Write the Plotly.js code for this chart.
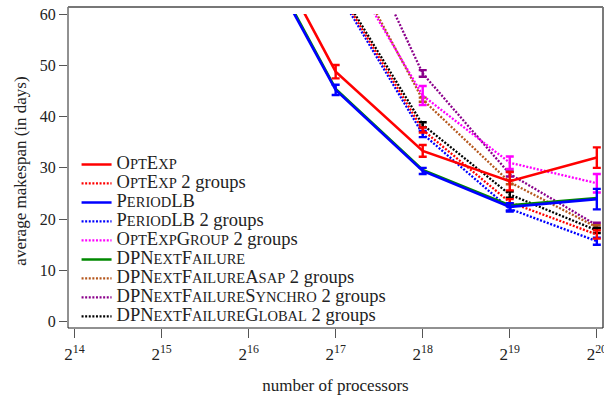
<!DOCTYPE html>
<html>
<head>
<meta charset="utf-8">
<script src="https://cdn.plot.ly/plotly-3.0.1.min.js"></script>
<style>html,body{margin:0;padding:0;background:#fff;}#chart{width:604px;height:401px;}</style>
</head>
<body>
<div id="chart"></div>
<script>
// processors (powers of two)
var xSolid = [Math.pow(2,16), Math.pow(2,17), Math.pow(2,18), Math.pow(2,19), Math.pow(2,20)];
var xGroup = [Math.pow(2,17), Math.pow(2,18), Math.pow(2,19), Math.pow(2,20)];

var optExp        = [80.5, 48.75, 33.3, 27.4, 32.0];
var optExpErr     = [null, 1.3, 1.15, 1.8, 2.0];
var periodLB      = [76.3, 45.2, 29.4, 22.4, 23.9];
var periodLBErr   = [null, 1.0, 0.6, 0.7, 2.0];
var dpNext        = [76.8, 45.4, 29.6, 22.7, 24.1];

var optExp2       = [65.6, 37.4, 23.3, 17.0];
var optExp2Err    = [null, 0.5, 0.6, 0.8];
var periodLB2     = [65.0, 36.6, 22.0, 15.7];
var periodLB2Err  = [null, 0.6, 0.5, 0.7];
var optExpGroup2  = [73.0, 44.1, 31.0, 27.0];
var optExpGroup2Err = [null, 1.85, 1.2, 1.8];
var dpAsap2       = [75.0, 43.3, 27.2, 18.4];
var dpAsap2Err    = [null, 0.4, 0.4, 0.4];
var dpSynchro2    = [84.7, 48.4, 28.8, 18.8];
var dpSynchro2Err = [null, 0.65, 0.5, 0.5];
var dpGlobal2     = [66.1, 38.4, 24.8, 17.8];
var dpGlobal2Err  = [null, 0.5, 0.6, 0.5];

var tickExp = [14, 15, 16, 17, 18, 19, 20];
var yTicks = [0, 10, 20, 30, 40, 50, 60];

function sc(s){ return "<span style='font-size:14.5px'>" + s + "</span>"; }
function big(s){ return "<span style='font-size:18.5px'>" + s + "</span>"; }
var names = {
  optExp: big("O" + sc("PT") + "E" + sc("XP")),
  optExp2: big("O" + sc("PT") + "E" + sc("XP") + " 2 groups"),
  periodLB: big("P" + sc("ERIOD") + "LB"),
  periodLB2: big("P" + sc("ERIOD") + "LB 2 groups"),
  optExpGroup2: big("O" + sc("PT") + "E" + sc("XP") + "G" + sc("ROUP") + " 2 groups"),
  dpNext: big("DPN" + sc("EXT") + "F" + sc("AILURE")),
  dpAsap2: big("DPN" + sc("EXT") + "F" + sc("AILURE") + "A" + sc("SAP") + " 2 groups"),
  dpSynchro2: big("DPN" + sc("EXT") + "F" + sc("AILURE") + "S" + sc("YNCHRO") + " 2 groups"),
  dpGlobal2: big("DPN" + sc("EXT") + "F" + sc("AILURE") + "G" + sc("LOBAL") + " 2 groups")
};

var DOT = "2px,1.6px";
function tr(x, y, err, name, color, dash, rank, w){
  var t = {
    x: x, y: y, name: name, mode: "lines", type: "scatter",
    line: {color: color, width: w || (dash ? 2.3 : 2.6), dash: dash || "solid"},
    legendrank: rank, hoverinfo: "skip"
  };
  if (err) t.error_y = {type: "data", array: err, visible: true, color: color, thickness: 2.4, width: 4};
  return t;
}

var data = [
  tr(xGroup, dpSynchro2, dpSynchro2Err, names.dpSynchro2, "#8B008B", DOT, 8),
  tr(xGroup, dpAsap2, dpAsap2Err, names.dpAsap2, "#B5571C", DOT, 7),
  tr(xGroup, optExpGroup2, optExpGroup2Err, names.optExpGroup2, "#FF00FF", DOT, 5),
  tr(xGroup, dpGlobal2, dpGlobal2Err, names.dpGlobal2, "#000000", DOT, 9),
  tr(xGroup, periodLB2, periodLB2Err, names.periodLB2, "#0000FF", DOT, 4),
  tr(xGroup, optExp2, optExp2Err, names.optExp2, "#FF0000", DOT, 2),
  tr(xSolid, dpNext, null, names.dpNext, "#008800", null, 6),
  tr(xSolid, periodLB, periodLBErr, names.periodLB, "#0000FF", null, 3),
  tr(xSolid, optExp, optExpErr, names.optExp, "#FF0000", null, 1)
];

var serif = "Liberation Serif, DejaVu Serif, serif";
var layout = {
  width: 604, height: 401,
  margin: {l: 68, r: 1, t: 14, b: 73},
  paper_bgcolor: "#fff", plot_bgcolor: "#fff",
  font: {family: serif, size: 15, color: "#222"},
  showlegend: true,
  legend: {
    x: 0.016, y: 0.567, xanchor: "left", yanchor: "top",
    bgcolor: "rgba(0,0,0,0)", borderwidth: 0,
    font: {family: serif, size: 10.7, color: "#222"},
    traceorder: "normal", itemwidth: 30
  },
  xaxis: {
    type: "log",
    range: [13.925 * Math.log10(2), 20.071 * Math.log10(2)],
    tickvals: tickExp.map(function(e){ return Math.pow(2, e); }),
    ticktext: tickExp.map(function(e){ return "2<sup>" + e + "</sup>"; }),
    ticks: "outside", ticklen: 9, tickwidth: 1, tickcolor: "#555",
    ticklabeloverflow: "allow", ticklabelstandoff: 2,
    showgrid: false, zeroline: false, showline: false,
    tickfont: {family: serif, size: 17, color: "#222"},
    title: {text: "number of processors", font: {family: serif, size: 17, color: "#222"}, standoff: 15}
  },
  yaxis: {
    range: [-1.23, 60],
    tickvals: yTicks,
    ticks: "outside", ticklen: 8, tickwidth: 1, tickcolor: "#555",
    showgrid: false, zeroline: false, showline: false,
    tickfont: {family: serif, size: 16, color: "#222"},
    title: {text: "average makespan (in days)", font: {family: serif, size: 17, color: "#222"}, standoff: 8}
  },
  shapes: [
    {type: "line", xref: "paper", yref: "paper", x0: 0, x1: 1, y0: 0, y1: 0, line: {color: "#222", width: 1}},
    {type: "line", xref: "paper", yref: "paper", x0: 0, x1: 0, y0: 0, y1: 1.0223, line: {color: "#222", width: 1}},
    {type: "line", xref: "paper", yref: "paper", x0: 1, x1: 1, y0: 0, y1: 1.0223, line: {color: "#222", width: 1.2}},
    {type: "line", xref: "paper", yref: "paper", x0: 0, x1: 1, y0: 1.0223, y1: 1.0223, line: {color: "#777", width: 2}}
  ]
};

Plotly.newPlot("chart", data, layout, {displayModeBar: false, staticPlot: true});
</script>
</body>
</html>
